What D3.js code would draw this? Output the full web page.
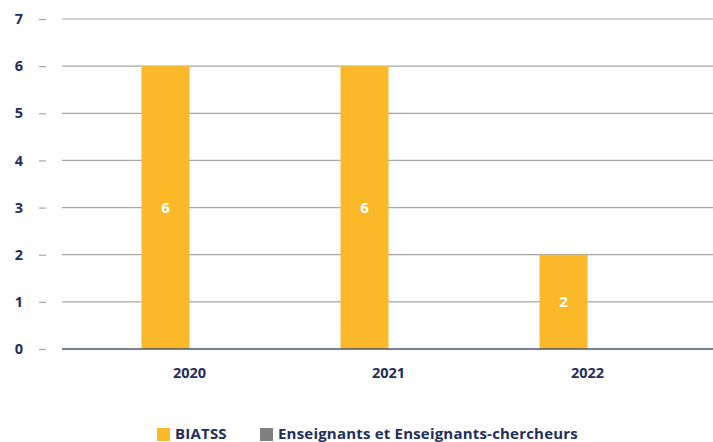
<!DOCTYPE html>
<html><head><meta charset="utf-8">
<script src="https://cdn.jsdelivr.net/npm/d3@7"></script>
<style>body{margin:0;background:#fff}text{font-family:"Open Sans",Lato,sans-serif;font-weight:700}</style>
</head><body>
<svg id="c" width="713" height="442"></svg>
<script>
const categories = ["2020","2021","2022"];
const seriesNames = ["BIATSS","Enseignants et Enseignants-chercheurs"];
const biatss = [6,6,2];
const enseignants = [0,0,0];
const yTicks = [0,1,2,3,4,5,6,7];
const colors = ["#FBB829","#7F7F7F"];
const ink = "#1F2D5A";

const svg = d3.select("#c");
const x = d3.scaleBand().domain(categories).range([90,687]);
const xs = d3.scaleBand().domain(seriesNames).range([0,96]);
const y = d3.scaleLinear().domain([0,7]).range([349,19]);

svg.append("g").selectAll("line").data(yTicks.filter(d=>d>0)).join("line")
  .attr("x1",62).attr("x2",713).attr("y1",d=>y(d)).attr("y2",d=>y(d))
  .attr("stroke","#A6A6A6").attr("stroke-width",1.2);

const ya = svg.append("g").attr("transform","translate(46,0)")
  .call(d3.axisLeft(y).tickValues(yTicks).tickSize(7).tickPadding(18).tickFormat(d3.format("d")));
ya.select(".domain").remove();
ya.selectAll(".tick line").attr("stroke","#A6A6A6").attr("stroke-width",1.2);
ya.selectAll(".tick text").attr("fill",ink).attr("font-size",14.5).attr("text-anchor","middle").attr("dx",-2);

const data = [biatss, enseignants];
data.forEach((vals,si)=>{
  svg.append("g").selectAll("rect").data(vals).join("rect")
    .attr("x",(d,i)=>x(categories[i]) + x.bandwidth()/2 - 48 + xs(seriesNames[si]))
    .attr("width",48)
    .attr("y",d=>y(d)).attr("height",d=>y(0)-y(d))
    .attr("fill",colors[si]);
});
svg.append("g").selectAll("text").data(biatss).join("text")
  .attr("x",(d,i)=>x(categories[i]) + x.bandwidth()/2 - 24)
  .attr("y",d=>(y(d)+y(0))/2).attr("dy","0.36em")
  .attr("text-anchor","middle").attr("fill","#fff").attr("font-size",15)
  .text(d=>d);

svg.append("line").attr("x1",62).attr("x2",713).attr("y1",y(0)).attr("y2",y(0))
  .attr("stroke","#4A5572").attr("stroke-width",1.5);

const xa = svg.append("g").attr("transform",`translate(0,${y(0)})`)
  .call(d3.axisBottom(x).tickSize(0).tickPadding(19));
xa.select(".domain").remove();
xa.selectAll(".tick text").attr("fill",ink).attr("font-size",14.5);

const lg = svg.append("g");
const lx = [157,260];
seriesNames.forEach((n,i)=>{
  lg.append("rect").attr("x",lx[i]).attr("y",428).attr("width",13).attr("height",13).attr("fill",colors[i]);
  lg.append("text").attr("x",lx[i]+18).attr("y",434).attr("dy","0.36em").attr("fill",ink)
    .attr("font-size",15).attr("letter-spacing",0.2).text(n);
});
</script>
</body></html>
